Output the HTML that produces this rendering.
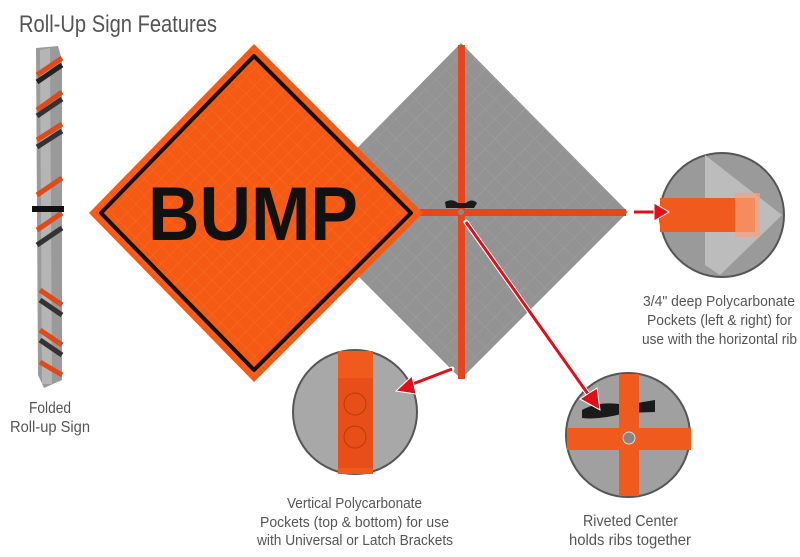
<!DOCTYPE html>
<html><head><meta charset="utf-8"><style>
html,body{margin:0;padding:0;background:#fff;}
svg{display:block;}
text{font-family:"Liberation Sans",sans-serif;fill:#555;}
</style></head><body>
<svg width="800" height="557" viewBox="0 0 800 557" xmlns="http://www.w3.org/2000/svg">
<defs>
<pattern id="grid" width="12" height="12" patternUnits="userSpaceOnUse" patternTransform="rotate(45)">
<path d="M0 0H12M0 0V12" stroke="#ff8a5a" stroke-width="0.6" fill="none" opacity="0.6"/>
</pattern>
<pattern id="ggrid" width="14" height="14" patternUnits="userSpaceOnUse" patternTransform="rotate(45)">
<path d="M0 0H14M0 0V14" stroke="#b8b8b8" stroke-width="0.6" fill="none" opacity="0.6"/>
</pattern>
</defs>
<text x="19" y="32" font-size="24" textLength="198" lengthAdjust="spacingAndGlyphs">Roll-Up Sign Features</text>

<!-- folded sign -->
<g>
<path d="M36 48 L58 46 L62 60 L62 380 L44 388 L38 375 Z" fill="#9a9a9a"/>
<path d="M40 50 L50 48 L52 384 L42 384Z" fill="#b5b5b5"/>
<g stroke-width="5" fill="none">
<path d="M37 75 L62 58" stroke="#e04a1a"/><path d="M37 82 L62 65" stroke="#222"/>
<path d="M37 110 L62 92" stroke="#e04a1a"/><path d="M37 116 L62 99" stroke="#333"/>
<path d="M37 140 L62 124" stroke="#e04a1a"/><path d="M37 147 L62 131" stroke="#333"/>
<path d="M37 195 L62 178" stroke="#e04a1a"/><path d="M37 230 L62 213" stroke="#e04a1a"/>
<path d="M37 245 L62 228" stroke="#333"/>
<path d="M40 290 L62 305" stroke="#e04a1a"/><path d="M40 300 L62 315" stroke="#333"/>
<path d="M40 330 L62 345" stroke="#e04a1a"/><path d="M40 340 L62 355" stroke="#333"/>
<path d="M40 362 L62 375" stroke="#e04a1a"/>
</g>
<rect x="32" y="206" width="32" height="6" fill="#111"/>
</g>
<text x="29" y="413" font-size="16" textLength="42" lengthAdjust="spacingAndGlyphs">Folded</text>
<text x="10" y="432" font-size="16" textLength="80" lengthAdjust="spacingAndGlyphs">Roll-up Sign</text>

<!-- gray diamond -->
<polygon points="461,43 628,212 461,379 294,212" fill="#939393"/>
<polygon points="461,43 628,212 461,379 294,212" fill="url(#ggrid)"/>
<rect x="458" y="45" width="7" height="334" fill="#e8461a"/>
<rect x="420" y="209" width="206" height="7" fill="#e8461a"/>
<path d="M445 202 Q452 198 458 203 L466 203 Q472 198 477 203 L474 208 L446 208Z" fill="#1a1a1a"/>
<circle cx="461" cy="212" r="3" fill="#888"/>

<!-- orange diamond -->
<polygon points="254,44 423,213 254,382 89,213" fill="#f45a14"/>
<polygon points="254,44 423,213 254,382 89,213" fill="url(#grid)"/>
<polygon points="254,56 411,213 254,370 101,213" fill="none" stroke="#111" stroke-width="4" stroke-linejoin="round"/>
<text x="148" y="240" font-size="76" font-weight="bold" textLength="210" lengthAdjust="spacingAndGlyphs" style="fill:#111">BUMP</text>

<!-- right circle -->
<g>
<circle cx="722" cy="215" r="62" fill="#9a9a9a" stroke="#555" stroke-width="2"/>
<polygon points="705,155 782,215 720,275 705,265" fill="#bcbcbc"/>
<rect x="660" y="198" width="95" height="34" fill="#f05a1c"/>
<rect x="735" y="193" width="25" height="44" fill="#f8a07a" opacity="0.7"/>
</g>
<text x="643" y="306" font-size="15" textLength="152" lengthAdjust="spacingAndGlyphs">3/4" deep Polycarbonate</text>
<text x="647" y="325" font-size="15" textLength="145" lengthAdjust="spacingAndGlyphs">Pockets (left &amp; right) for</text>
<text x="642" y="344" font-size="15" textLength="155" lengthAdjust="spacingAndGlyphs">use with the horizontal rib</text>

<!-- left circle -->
<g>
<circle cx="355" cy="412" r="62" fill="#a8a8a8" stroke="#555" stroke-width="2"/>
<rect x="338" y="351" width="35" height="123" fill="#f05a1c"/>
<rect x="338" y="378" width="35" height="90" fill="#e84e18"/>
<circle cx="355" cy="404" r="11" fill="none" stroke="#b53c10"/>
<circle cx="355" cy="437" r="11" fill="none" stroke="#b53c10"/>
</g>
<text x="287" y="508" font-size="15" textLength="135" lengthAdjust="spacingAndGlyphs">Vertical Polycarbonate</text>
<text x="260" y="527" font-size="15" textLength="189" lengthAdjust="spacingAndGlyphs">Pockets (top &amp; bottom) for use</text>
<text x="257" y="545" font-size="15" textLength="196" lengthAdjust="spacingAndGlyphs">with Universal or Latch Brackets</text>

<!-- bottom right circle -->
<g>
<circle cx="628" cy="435" r="62" fill="#a0a0a0" stroke="#555" stroke-width="2"/>
<path d="M582 410 Q600 400 625 405 L655 400 L655 412 L625 413 Q600 420 582 418Z" fill="#1a1a1a"/>
<rect x="619" y="374" width="20" height="122" fill="#f05a1c"/>
<rect x="567" y="428" width="124" height="22" fill="#f05a1c"/>
<circle cx="629" cy="438" r="6" fill="#8a8580" stroke="#ddd"/>
</g>
<text x="583" y="526" font-size="16" textLength="95" lengthAdjust="spacingAndGlyphs">Riveted Center</text>
<text x="569" y="545" font-size="16" textLength="122" lengthAdjust="spacingAndGlyphs">holds ribs together</text>

<!-- arrows (on top) -->
<g stroke="#fff" stroke-width="5" fill="none" stroke-linecap="round">
<line x1="634" y1="212" x2="656" y2="212"/>
<line x1="452" y1="369" x2="410" y2="385"/>
<line x1="466" y1="222" x2="588" y2="394"/>
</g>
<g stroke="#e0101a" stroke-width="3" fill="none">
<line x1="634" y1="212" x2="656" y2="212"/>
<line x1="452" y1="369" x2="410" y2="385"/>
<line x1="466" y1="222" x2="588" y2="394"/>
</g>
<polygon points="654,203 669,212 654,221" fill="#e0101a" stroke="#fff" stroke-width="1"/>
<polygon points="412,376 396,391 416,394" fill="#e0101a" stroke="#fff" stroke-width="1"/>
<polygon points="580,399 600,410 597,388" fill="#e0101a" stroke="#fff" stroke-width="1"/>
</svg>
</body></html>
